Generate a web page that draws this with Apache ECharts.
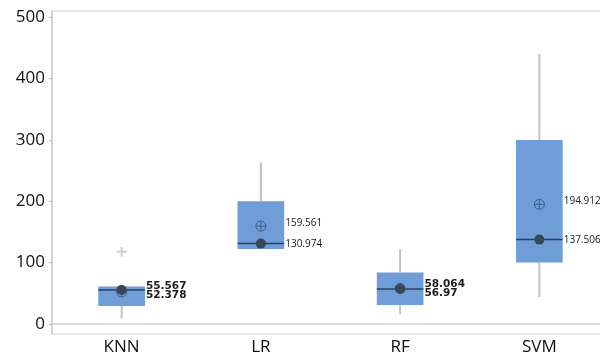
<!DOCTYPE html>
<html>
<head>
<meta charset="utf-8">
<script src="https://cdn.jsdelivr.net/npm/echarts@6/dist/echarts.min.js"></script>
<style>
  html, body { margin: 0; padding: 0; background: #ffffff; }
  #chart { width: 600px; height: 356px; }
</style>
</head>
<body>
<div id="chart"></div>
<script>
// Model comparison: box plots of error per model
const categories = ['KNN', 'LR', 'RF', 'SVM'];
const whiskerLow = [9, 122, 16, 44];
const q1 = [29.5, 122, 31, 100];
const medians = [55.567, 130.974, 56.97, 137.506];
const q3 = [61, 200, 84, 300];
const whiskerHigh = [61, 263.5, 122, 440];
const means = [52.378, 159.561, 58.064, 194.912];
const outliers = [[0, 117.6]];
const yTicks = [0, 100, 200, 300, 400, 500];

const boxRows = categories.map((c, i) => [i, whiskerLow[i], q1[i], medians[i], q3[i], whiskerHigh[i], means[i]]);

const BOX_FILL = '#6f9dd8';
const WHISKER = '#c2c2c2';
const MEDIAN_LINE = '#2c3f5e';
const DOT = '#3b4555';
const MEAN_RING = '#3c5f8c';

function fmt(v) { return String(v); }

function renderBox(params, api) {
  const i = api.value(0);
  const bw = api.size([1, 0])[0] * 0.335;
  const cx = api.coord([i, 0])[0];
  const y = k => api.coord([i, api.value(k)])[1];
  const yLo = y(1), yQ1 = y(2), yMed = y(3), yQ3 = y(4), yHi = y(5), yMean = y(6);
  const left = cx - bw / 2, right = cx + bw / 2;
  const med = api.value(3), mean = api.value(6);

  const children = [];
  const wStyle = { stroke: WHISKER, lineWidth: 2 };
  if (yHi < yQ3) children.push({ type: 'line', shape: { x1: cx, y1: yHi, x2: cx, y2: yQ3 }, style: wStyle });
  if (yLo > yQ1) children.push({ type: 'line', shape: { x1: cx, y1: yQ1, x2: cx, y2: yLo }, style: wStyle });
  children.push({ type: 'rect', shape: { x: left, y: yQ3, width: bw, height: yQ1 - yQ3 }, style: { fill: BOX_FILL } });
  children.push({ type: 'line', shape: { x1: left, y1: yMed, x2: right, y2: yMed }, style: { stroke: MEDIAN_LINE, lineWidth: 1.5 } });
  // mean marker: circle with cross
  const r = 5;
  children.push({ type: 'circle', shape: { cx: cx, cy: yMean, r: r }, style: { fill: 'none', stroke: MEAN_RING, lineWidth: 1 } });
  children.push({ type: 'line', shape: { x1: cx - r, y1: yMean, x2: cx + r, y2: yMean }, style: { stroke: MEAN_RING, lineWidth: 1 } });
  children.push({ type: 'line', shape: { x1: cx, y1: yMean - r, x2: cx, y2: yMean + r }, style: { stroke: MEAN_RING, lineWidth: 1 } });
  // median marker
  children.push({ type: 'circle', shape: { cx: cx, cy: yMed, r: 5 }, style: { fill: DOT } });

  // value labels beside the box
  const close = Math.abs(yMean - yMed) < 10;
  let yMeanLbl = yMean, yMedLbl = yMed;
  if (close) {
    const mid = (yMean + yMed) / 2;
    if (mean >= med) { yMeanLbl = mid - 4.5; yMedLbl = mid + 4.5; }
    else { yMedLbl = mid - 4.5; yMeanLbl = mid + 4.5; }
  } else {
    yMeanLbl = yMean - 3;
    yMedLbl = yMed + 1;
  }
  const font = close
    ? { fontSize: 10.5, fontWeight: 'bold', fontFamily: 'DejaVu Sans' }
    : { fontSize: 10, fontWeight: 'normal', fontFamily: 'Open Sans' };
  const lx = right + 1;
  children.push({ type: 'text', style: Object.assign({ text: fmt(mean), x: lx, y: yMeanLbl, fill: '#1a1a1a', align: 'left', verticalAlign: 'middle' }, font) });
  children.push({ type: 'text', style: Object.assign({ text: fmt(med), x: lx, y: yMedLbl, fill: '#1a1a1a', align: 'left', verticalAlign: 'middle' }, font) });

  return { type: 'group', children: children };
}

const chart = echarts.init(document.getElementById('chart'), null, { renderer: 'canvas' });
chart.setOption({
  animation: false,
  backgroundColor: '#ffffff',
  grid: {
    show: true,
    left: 52, top: 11, width: 557, height: 323,
    outerBoundsMode: 'none',
    containLabel: false,
    borderColor: '#d2d2d2', borderWidth: 1.2,
    backgroundColor: 'transparent'
  },
  xAxis: {
    type: 'category',
    data: categories,
    axisLine: { lineStyle: { color: '#cfcfcf', width: 1.5 } },
    axisTick: { alignWithLabel: true, length: 3, lineStyle: { color: '#bdbdbd' } },
    axisLabel: { fontSize: 17, color: '#111111', fontFamily: 'Open Sans', margin: 5 },
    splitLine: { show: false }
  },
  yAxis: {
    type: 'value',
    min: -16.3,
    max: 510,
    axisLine: { show: true, lineStyle: { color: '#cfcfcf', width: 1.5 } },
    axisTick: { show: true, length: 3, customValues: yTicks, lineStyle: { color: '#bdbdbd' } },
    axisLabel: { fontSize: 17, color: '#111111', fontFamily: 'Open Sans', margin: 7, customValues: yTicks },
    splitLine: { show: false }
  },
  series: [
    {
      type: 'custom',
      renderItem: renderBox,
      encode: { x: 0, y: [1, 2, 3, 4, 5, 6] },
      data: boxRows,
      clip: false,
      z: 2
    },
    {
      type: 'scatter',
      data: outliers,
      symbol: 'path://M4,0H6V4H10V6H6V10H4V6H0V4H4Z',
      symbolSize: 10,
      itemStyle: { color: '#c6c6c6' },
      z: 3
    }
  ]
});
</script>
</body>
</html>
